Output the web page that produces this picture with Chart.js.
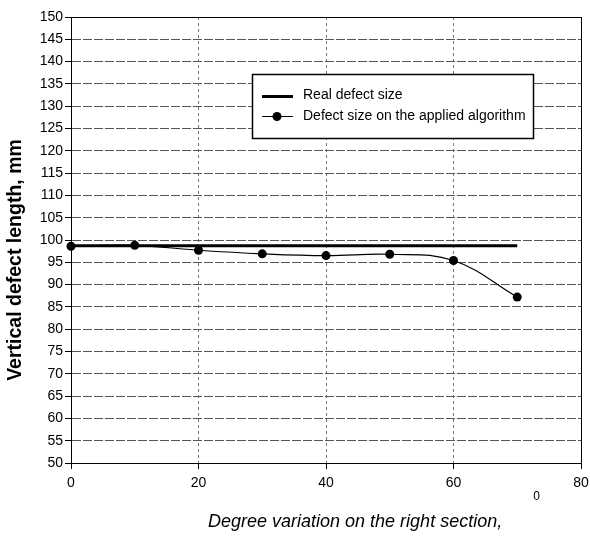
<!DOCTYPE html>
<html>
<head>
<meta charset="utf-8">
<script src="https://cdn.jsdelivr.net/npm/chart.js@4.4.1/dist/chart.umd.min.js"></script>
<style>
  html, body { margin: 0; padding: 0; background: #fff; }
  #wrap { width: 590px; height: 536px; }
</style>
</head>
<body>
<div id="wrap"><canvas id="chart" width="590" height="536"></canvas></div>
<script>
// data
const degrees = [0, 10, 20, 30, 40, 50, 60, 70];
const algoSize = [98.6, 98.8, 97.7, 96.9, 96.5, 96.8, 95.4, 87.2];
const realSize = 98.7;
const realRange = [0, 70];

const seriesNames = ['Real defect size', 'Defect size on the applied algorithm'];
const xTitle = 'Degree variation on the right section,';
const xTitleSup = '0';
const yTitle = 'Vertical defect length, mm';

const FONT = '"Liberation Sans", Arial, sans-serif';

// legend + axis titles + plot frame
const decorPlugin = {
    id: 'decor',
    afterDraw(chart) {
        const ctx = chart.ctx;
        const a = chart.chartArea;
        ctx.save();
        ctx.setLineDash([]);

        // frame round the plot, on the same pixels as the outer grid lines
        const xs = chart.scales.x, ys = chart.scales.y;
        const L = Math.round(xs.getPixelForValue(0) - 0.5) + 0.5;
        const R = Math.round(xs.getPixelForValue(80) - 0.5) + 0.5;
        const T = Math.round(ys.getPixelForValue(150) - 0.5) + 0.5;
        const B = Math.round(ys.getPixelForValue(50) - 0.5) + 0.5;
        ctx.strokeStyle = '#000';
        ctx.lineWidth = 1;
        ctx.strokeRect(L, T, R - L, B - T);

        // legend box
        const lx = a.left + 181, ly = a.top + 57, lw = 281, lh = 64;
        ctx.fillStyle = '#fff';
        ctx.fillRect(lx, ly, lw, lh);
        ctx.lineWidth = 1.5;
        ctx.strokeRect(lx + 0.5, ly + 0.5, lw, lh);

        ctx.strokeStyle = '#000';
        ctx.lineWidth = 3;
        ctx.beginPath();
        ctx.moveTo(lx + 10, ly + 22.5);
        ctx.lineTo(lx + 41, ly + 22.5);
        ctx.stroke();

        ctx.lineWidth = 1;
        ctx.beginPath();
        ctx.moveTo(lx + 10, ly + 42.5);
        ctx.lineTo(lx + 41, ly + 42.5);
        ctx.stroke();
        ctx.beginPath();
        ctx.arc(lx + 25, ly + 42.5, 4.5, 0, Math.PI * 2);
        ctx.fillStyle = '#000';
        ctx.fill();

        ctx.font = '14px ' + FONT;
        ctx.textBaseline = 'middle';
        ctx.textAlign = 'left';
        ctx.fillText(seriesNames[0], lx + 51, ly + 21);
        ctx.fillText(seriesNames[1], lx + 51, ly + 42);

        // x title
        ctx.font = 'italic 18px ' + FONT;
        ctx.textAlign = 'left';
        ctx.textBaseline = 'alphabetic';
        ctx.fillText(xTitle, 208, 527);
        const w = ctx.measureText(xTitle).width;
        ctx.font = '12px ' + FONT;
        ctx.fillText(xTitleSup, 208 + w + 31, 500);

        // y title
        ctx.translate(21, 260);
        ctx.rotate(-Math.PI / 2);
        ctx.font = 'bold 19.5px ' + FONT;
        ctx.textAlign = 'center';
        ctx.fillText(yTitle, 0, 0);

        ctx.restore();
    }
};

new Chart(document.getElementById('chart').getContext('2d'), {
    type: 'line',
    data: {
        datasets: [{
            label: seriesNames[0],
            data: realRange.map(x => ({ x: x, y: realSize })),
            borderColor: '#000',
            borderWidth: 3,
            pointRadius: 0,
            tension: 0,
            clip: false
        }, {
            label: seriesNames[1],
            data: degrees.map((d, i) => ({ x: d, y: algoSize[i] })),
            borderColor: '#000',
            backgroundColor: '#000',
            borderWidth: 1.2,
            pointRadius: 4.5,
            pointBackgroundColor: '#000',
            pointBorderWidth: 0,
            tension: 0.4,
            clip: false
        }]
    },
    options: {
        responsive: false,
        animation: false,
        layout: { padding: { top: 17, right: 0, left: 0, bottom: 0 } },
        plugins: { legend: { display: false }, tooltip: { enabled: false } },
        scales: {
            x: {
                type: 'linear',
                min: 0, max: 80,
                ticks: { stepSize: 20, color: '#000', font: { family: FONT, size: 14 }, padding: 6 },
                grid: { color: '#777', tickColor: '#000', tickLength: 6, tickBorderDash: [] },
                border: { color: '#000', width: 1, dash: [3, 3] },
                afterFit: s => { s.height = 73; s.paddingRight = 9; s.paddingLeft = 0; }
            },
            y: {
                min: 50, max: 150,
                ticks: { stepSize: 5, color: '#000', font: { family: FONT, size: 14 }, padding: 2 },
                grid: { color: '#555', tickColor: '#000', tickLength: 6, tickBorderDash: [] },
                border: { color: '#000', width: 1, dash: [9, 2] },
                afterFit: s => { s.width = 71; }
            }
        }
    },
    plugins: [decorPlugin]
});
</script>
</body>
</html>
